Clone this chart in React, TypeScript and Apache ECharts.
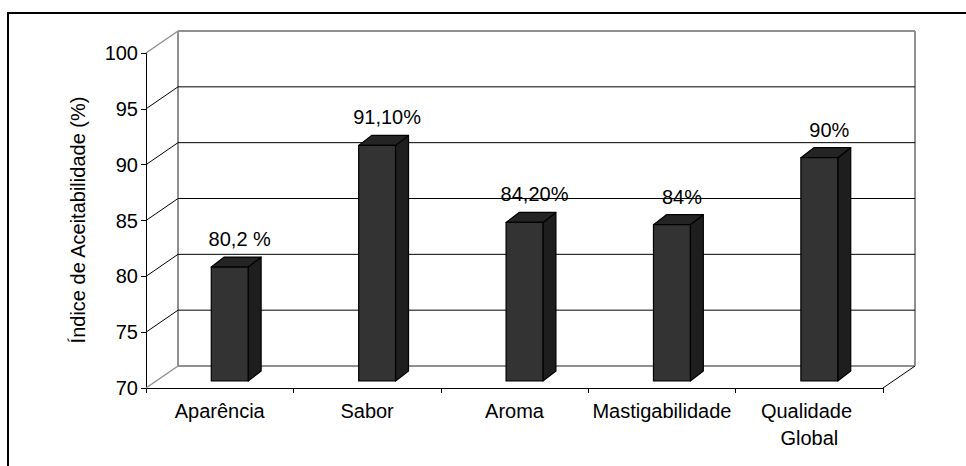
import React, { useEffect, useRef } from "react";
import * as echarts from "echarts";

const categories = ["Aparência", "Sabor", "Aroma", "Mastigabilidade", "Qualidade Global"];
const values = [80.2, 91.1, 84.2, 84, 90];
const valueLabels = ["80,2 %", "91,10%", "84,20%", "84%", "90%"];
const yTicks = [70, 75, 80, 85, 90, 95, 100];
const axisTitle = "Índice de Aceitabilidade (%)";

const DX = 32;
const DY = 22;
const BFX = 10;
const BFY = 7;
const BDX = 13;
const BDY = 10;
const FONT = "'Liberation Sans', Arial, sans-serif";
const EDGE = "#909090";

export default function App() {
  const ref = useRef<HTMLDivElement>(null);
  useEffect(() => {
    const chart = echarts.init(ref.current!, null, { renderer: "svg" });
    const yMin = yTicks[0];
    const yMax = yTicks[yTicks.length - 1];

    const wallSeries = {
      type: "custom",
      coordinateSystem: "cartesian2d",
      silent: true,
      z: 1,
      data: yTicks.map((t) => [0, t]),
      encode: { x: 0, y: 1 },
      renderItem: (params: any, api: any) => {
        const cs = params.coordSys;
        const v = api.value(1);
        const y = api.coord([0, v])[1];
        const x0 = cs.x;
        const x1 = cs.x + cs.width;
        const edge = v === yMin || v === yMax;
        const children: any[] = [
          {
            type: "line",
            shape: { x1: x0, y1: y, x2: x0 + DX, y2: y - DY },
            style: { stroke: edge ? EDGE : "#000", lineWidth: edge ? 1.5 : 1 },
          },
          {
            type: "line",
            shape: { x1: x0 + DX, y1: y - DY, x2: x1 + DX, y2: y - DY },
            style: { stroke: edge ? EDGE : "#000", lineWidth: edge ? 2 : 1 },
          },
        ];
        if (params.dataIndex === 0) {
          const yt = cs.y;
          const yb = cs.y + cs.height;
          children.push(
            {
              type: "line",
              shape: { x1: x0 + DX, y1: yt - DY, x2: x0 + DX, y2: yb - DY },
              style: { stroke: EDGE, lineWidth: 2 },
            },
            {
              type: "line",
              shape: { x1: x1 + DX, y1: yt - DY, x2: x1 + DX, y2: yb - DY },
              style: { stroke: EDGE, lineWidth: 2 },
            },
            {
              type: "line",
              shape: { x1: x1, y1: yb, x2: x1 + DX, y2: yb - DY },
              style: { stroke: "#000", lineWidth: 1 },
            }
          );
        }
        return { type: "group", children };
      },
    };

    const barSeries = {
      type: "custom",
      coordinateSystem: "cartesian2d",
      z: 3,
      data: values.map((v, i) => [i, v]),
      encode: { x: 0, y: 1 },
      renderItem: (params: any, api: any) => {
        const i = api.value(0);
        const v = api.value(1);
        const top = api.coord([i, v]);
        const bot = api.coord([i, yMin]);
        const w = api.size([1, 0])[0] * 0.25;
        const cx = top[0] + BFX;
        const xl = cx - w / 2;
        const xr = cx + w / 2;
        const yt = top[1] - BFY;
        const yb = bot[1] - BFY;
        const stroke = { stroke: "#000", lineWidth: 1.2, lineJoin: "round" };
        return {
          type: "group",
          children: [
            {
              type: "polygon",
              shape: { points: [[xr, yt], [xr + BDX, yt - BDY], [xr + BDX, yb - BDY], [xr, yb]] },
              style: { fill: "#1e1e1e", ...stroke },
            },
            {
              type: "polygon",
              shape: { points: [[xl, yt], [xl + BDX, yt - BDY], [xr + BDX, yt - BDY], [xr, yt]] },
              style: { fill: "#242424", ...stroke },
            },
            {
              type: "rect",
              shape: { x: xl, y: yt, width: w, height: yb - yt },
              style: { fill: "#333333", ...stroke },
            },
            {
              type: "text",
              x: cx + 10,
              y: yt - BDY - 18,
              style: {
                text: valueLabels[params.dataIndex],
                fill: "#000",
                font: `20px ${FONT}`,
                align: "center",
                verticalAlign: "middle",
              },
            },
          ],
        };
      },
    };

    chart.setOption({
      animation: false,
      backgroundColor: "#ffffff",
      grid: { left: 146, right: 83, top: 53, bottom: 78, containLabel: false },
      xAxis: {
        type: "category",
        data: categories,
        axisLine: { lineStyle: { color: "#000", width: 1 } },
        axisTick: { show: true, length: 5, lineStyle: { color: "#000" } },
        axisLabel: {
          color: "#000",
          fontSize: 20,
          fontFamily: FONT,
          margin: 9,
          lineHeight: 27,
          width: 146,
          overflow: "break",
          interval: 0,
        },
        splitLine: { show: false },
      },
      yAxis: {
        type: "value",
        min: yMin,
        max: yMax,
        interval: 5,
        axisLine: { show: true, lineStyle: { color: "#000", width: 1 } },
        axisTick: { show: true, length: 5, lineStyle: { color: "#000" } },
        axisLabel: { color: "#000", fontSize: 20, fontFamily: FONT, margin: 8 },
        splitLine: { show: false },
      },
      graphic: [
        {
          type: "rect",
          shape: { x: 8, y: 13, width: 1000, height: 1000 },
          style: { fill: "none", stroke: "#000", lineWidth: 2 },
          silent: true,
        },
        {
          type: "text",
          x: 78,
          y: 220,
          rotation: Math.PI / 2,
          style: {
            text: axisTitle,
            fill: "#000",
            font: `20px ${FONT}`,
            align: "center",
            verticalAlign: "middle",
          },
        },
      ],
      series: [wallSeries, barSeries],
    });
    return () => chart.dispose();
  }, []);
  return (
    <div
      ref={ref}
      style={{ position: "absolute", left: 0, top: 0, width: 966, height: 466 }}
    />
  );
}
